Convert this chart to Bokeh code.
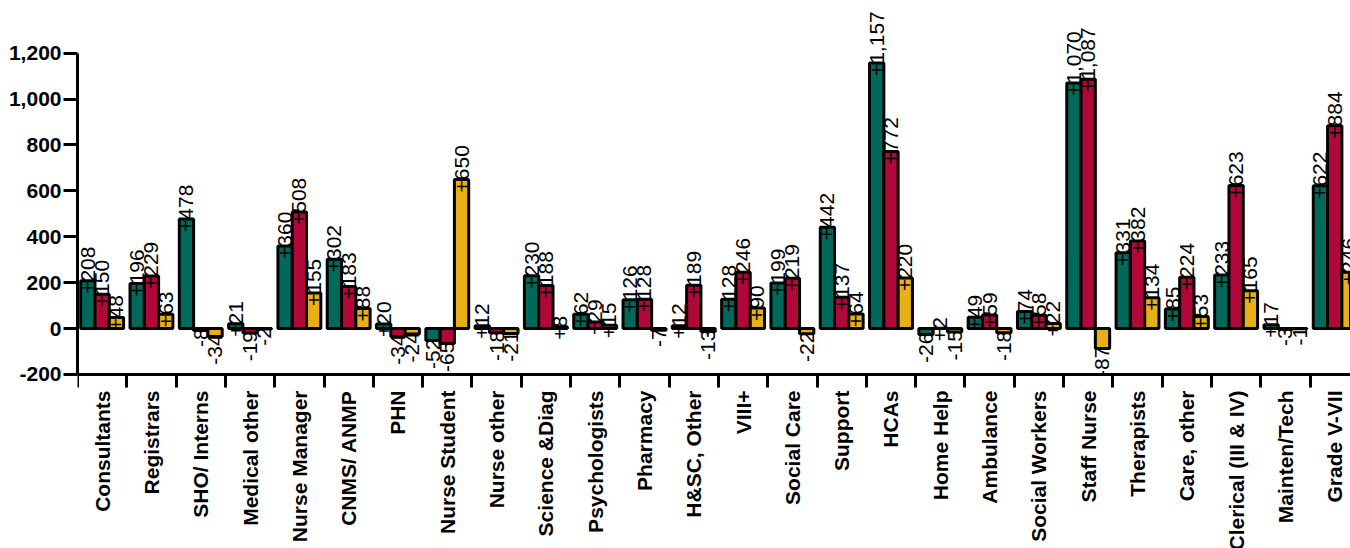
import numpy as np
from bokeh.plotting import figure
from bokeh.models import ColumnDataSource, Range1d, FixedTicker, NumeralTickFormatter, LabelSet
from bokeh.core.properties import value
from bokeh.embed import file_html
from bokeh.resources import INLINE

categories = ["Consultants", "Registrars", "SHO/ Interns", "Medical other", "Nurse Manager",
              "CNMS/ ANMP", "PHN", "Nurse Student", "Nurse other", "Science &Diag",
              "Psychologists", "Pharmacy", "H&SC, Other", "VIII+", "Social Care", "Support",
              "HCAs", "Home Help", "Ambulance", "Social Workers", "Staff Nurse", "Therapists",
              "Care, other", "Clerical (III & IV)", "Mainten/Tech", "Grade V-VII"]
green_vals = [208, 196, 478, 21, 360, 302, 20, -52, 12, 230, 62, 126, 12, 128, 199, 442,
              1157, -26, 49, 74, 1070, 331, 85, 233, 17, 622]
red_vals = [150, 229, -8, -19, 508, 183, -34, -65, -18, 188, 29, 128, 189, 246, 219, 137,
            772, 2, 59, 58, 1087, 382, 224, 623, -3, 884]
yellow_vals = [48, 63, -34, -2, 155, 88, -24, 650, -21, 8, 15, -7, -13, 90, -22, 64,
               220, -15, -18, 22, -87, 134, 53, 165, -1, 246]
y_ticks = [-200, 0, 200, 400, 600, 800, 1000, 1200]

series = [green_vals, red_vals, yellow_vals]
colors = ["#00695a", "#b20839", "#e8b016"]

FONT = "Liberation Sans"
W, H = 1350, 548

p = figure(width=W, height=H, output_backend="svg", toolbar_location=None, title=None,
           x_range=Range1d(0.5, 26.32), y_range=Range1d(-958.2, 1429.6),
           min_border_left=77, min_border_right=0, min_border_top=0, min_border_bottom=0)
p.outline_line_color = None
p.xgrid.visible = False
p.ygrid.visible = False
p.background_fill_color = "white"

n = len(categories)
centers = np.arange(1, n + 1)
boundaries = list(np.arange(0.5, n + 1, 1.0))
bw = 0.29
offsets = [-bw, 0.0, bw]

pos_x, pos_y, pos_t = [], [], []
neg_x, neg_y, neg_t = [], [], []
for vals, off, col in zip(series, offsets, colors):
    xs = centers + off
    src = ColumnDataSource(dict(x=xs, top=vals))
    p.vbar(x="x", top="top", bottom=0, width=bw, source=src,
           fill_color=col, line_color="black", line_width=3)
    for xv, v in zip(xs, vals):
        if v >= 0:
            pos_x.append(xv); pos_y.append(v); pos_t.append("+{:,}".format(v))
        else:
            neg_x.append(xv); neg_y.append(v); neg_t.append("{:,}".format(v))

pos_src = ColumnDataSource(dict(x=pos_x, y=pos_y, t=pos_t))
neg_src = ColumnDataSource(dict(x=neg_x, y=neg_y, t=neg_t))
common = dict(angle=np.pi / 2, text_baseline="middle", text_font=value(FONT),
              text_font_size="21px", text_color="black")
p.add_layout(LabelSet(x="x", y="y", text="t", source=pos_src, text_align="left",
                      y_offset=-13, **common))
p.add_layout(LabelSet(x="x", y="y", text="t", source=neg_src, text_align="right",
                      y_offset=2, **common))

# y axis
ya = p.yaxis[0]
ya.ticker = FixedTicker(ticks=y_ticks)
ya.formatter = NumeralTickFormatter(format="0,0")
ya.bounds = (y_ticks[0], y_ticks[-1])
ya.axis_line_width = 3
ya.axis_line_color = "black"
ya.major_tick_line_width = 3
ya.major_tick_line_color = "black"
ya.major_tick_out = 14
ya.major_tick_in = 0
ya.minor_tick_out = 0
ya.minor_tick_in = 0
ya.major_label_standoff = 2
ya.major_label_text_font = FONT
ya.major_label_text_font_size = "21px"
ya.major_label_text_font_style = "bold"
ya.major_label_text_color = "black"

# x axis
xa = p.xaxis[0]
xa.ticker = FixedTicker(ticks=[int(c) for c in centers], minor_ticks=boundaries)
xa.major_label_overrides = {int(c): name for c, name in zip(centers, categories)}
xa.fixed_location = y_ticks[0]
xa.axis_line_width = 3
xa.axis_line_color = "black"
xa.major_tick_out = 0
xa.major_tick_in = 0
xa.minor_tick_out = 13
xa.minor_tick_in = 0
xa.minor_tick_line_width = 3
xa.minor_tick_line_color = "black"
xa.major_label_orientation = np.pi / 2
xa.major_label_standoff = 3
xa.major_label_text_font = FONT
xa.major_label_text_font_size = "21px"
xa.major_label_text_font_style = "bold"
xa.major_label_text_color = "black"

open("out.html", "w").write(file_html(p, INLINE))
